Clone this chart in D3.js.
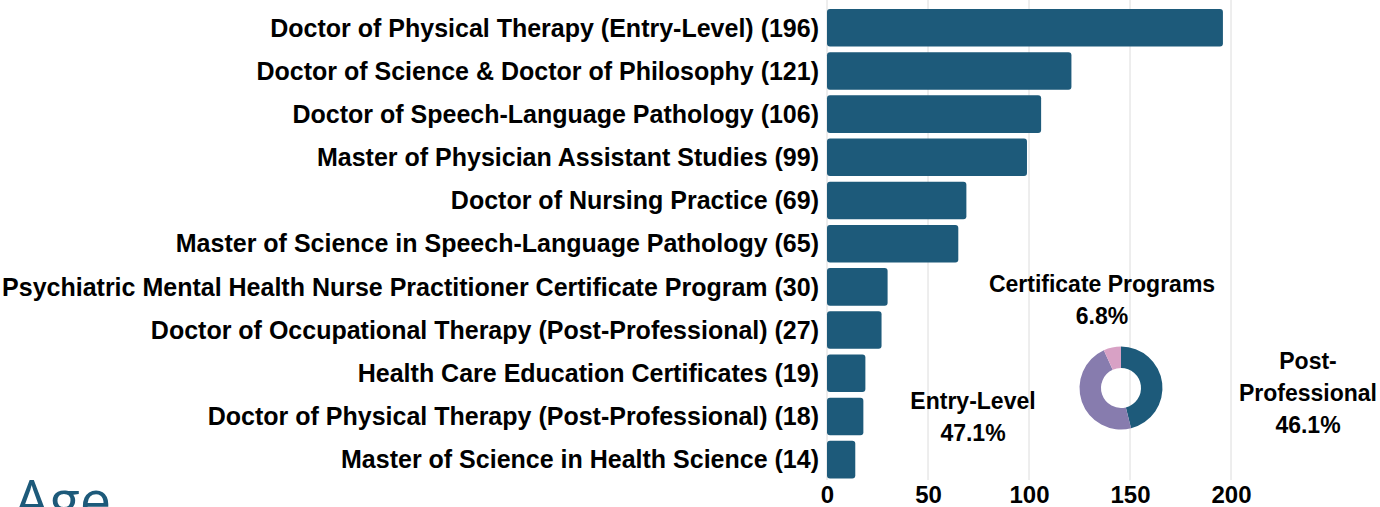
<!DOCTYPE html>
<html>
<head>
<meta charset="utf-8">
<script src="https://cdn.jsdelivr.net/npm/d3@7"></script>
<style>
  body { margin: 0; background: #fff; overflow: hidden; }
  svg { display: block; font-family: "Liberation Sans", Arial, sans-serif; }
</style>
</head>
<body>
<svg id="chart" width="1380" height="507"></svg>
<script>
// program names and enrolment counts
var programs = [
    "Doctor of Physical Therapy (Entry-Level)",
    "Doctor of Science & Doctor of Philosophy",
    "Doctor of Speech-Language Pathology",
    "Master of Physician Assistant Studies",
    "Doctor of Nursing Practice",
    "Master of Science in Speech-Language Pathology",
    "Psychiatric Mental Health Nurse Practitioner Certificate Program",
    "Doctor of Occupational Therapy (Post-Professional)",
    "Health Care Education Certificates",
    "Doctor of Physical Therapy (Post-Professional)",
    "Master of Science in Health Science"
];
var counts = [196, 121, 106, 99, 69, 65, 30, 27, 19, 18, 14];
var xTicks = [0, 50, 100, 150, 200];

// donut: program type share
var typeNames = ["Post-Professional", "Entry-Level", "Certificate Programs"];
var typeShares = [46.1, 47.1, 6.8];
var typeColors = ["#1d5a7a", "#877cae", "#d8a1c5"];

var svg = d3.select("#chart");

var x = d3.scaleLinear()
    .domain([0, 200])
    .range([827, 1231]);

var y = d3.scaleBand()
    .domain(programs)
    .range([3.4, 484])
    .padding(0.13);

// grid lines
svg.append("g")
    .attr("class", "grid")
    .selectAll("line")
    .data(xTicks)
    .enter().append("line")
    .attr("x1", function(d) { return x(d); })
    .attr("x2", function(d) { return x(d); })
    .attr("y1", 0)
    .attr("y2", 480)
    .attr("stroke", "#dcdcdc")
    .attr("stroke-width", 1);

// bars
svg.append("g")
    .selectAll("rect")
    .data(counts)
    .enter().append("rect")
    .attr("x", x(0))
    .attr("y", function(d, i) { return y(programs[i]); })
    .attr("width", function(d) { return x(d) - x(0); })
    .attr("height", y.bandwidth())
    .attr("rx", 3)
    .attr("fill", "#1d5a7a");

// category labels
svg.append("g")
    .selectAll("text")
    .data(programs)
    .enter().append("text")
    .attr("x", 819)
    .attr("y", function(d) { return y(d) + y.bandwidth() / 2; })
    .attr("dy", "0.35em")
    .attr("text-anchor", "end")
    .attr("font-size", 25)
    .attr("font-weight", "bold")
    .attr("fill", "#000")
    .text(function(d, i) { return d + " (" + counts[i] + ")"; });

// x axis
var axis = svg.append("g")
    .attr("transform", "translate(0,482)")
    .call(d3.axisBottom(x).tickValues(xTicks).tickSize(0).tickPadding(4));
axis.select(".domain").remove();
axis.selectAll("text")
    .attr("font-size", 24)
    .attr("font-weight", "bold")
    .attr("font-family", "Liberation Sans, Arial, sans-serif")
    .attr("fill", "#000");

// donut
var cx = 1121, cy = 388;
var pie = d3.pie().sort(null).value(function(d) { return d; });
var arc = d3.arc().innerRadius(20).outerRadius(41.5);

svg.append("g")
    .attr("transform", "translate(" + cx + "," + cy + ")")
    .selectAll("path")
    .data(pie(typeShares))
    .enter().append("path")
    .attr("d", arc)
    .attr("fill", function(d, i) { return typeColors[i]; });

// donut labels
var donutLabels = [
    { lines: ["Post-", "Professional", typeShares[0] + "%"], x: 1308, y: 361 },
    { lines: ["Entry-Level", typeShares[1] + "%"], x: 973, y: 401 },
    { lines: ["Certificate Programs", typeShares[2] + "%"], x: 1102, y: 284 }
];
donutLabels.forEach(function(lbl) {
    var t = svg.append("text")
        .attr("text-anchor", "middle")
        .attr("font-size", 23)
        .attr("font-weight", "bold")
        .attr("fill", "#000");
    lbl.lines.forEach(function(line, j) {
        t.append("tspan")
            .attr("x", lbl.x)
            .attr("y", lbl.y + j * 32)
            .attr("dy", "0.35em")
            .text(line);
    });
});

// section heading, cut off at the bottom
svg.append("text")
    .attr("x", 14)
    .attr("y", 521)
    .attr("font-size", 56)
    .attr("font-family", "Open Sans, sans-serif")
    .attr("fill", "#1d5a7a")
    .text("Age");
</script>
</body>
</html>
